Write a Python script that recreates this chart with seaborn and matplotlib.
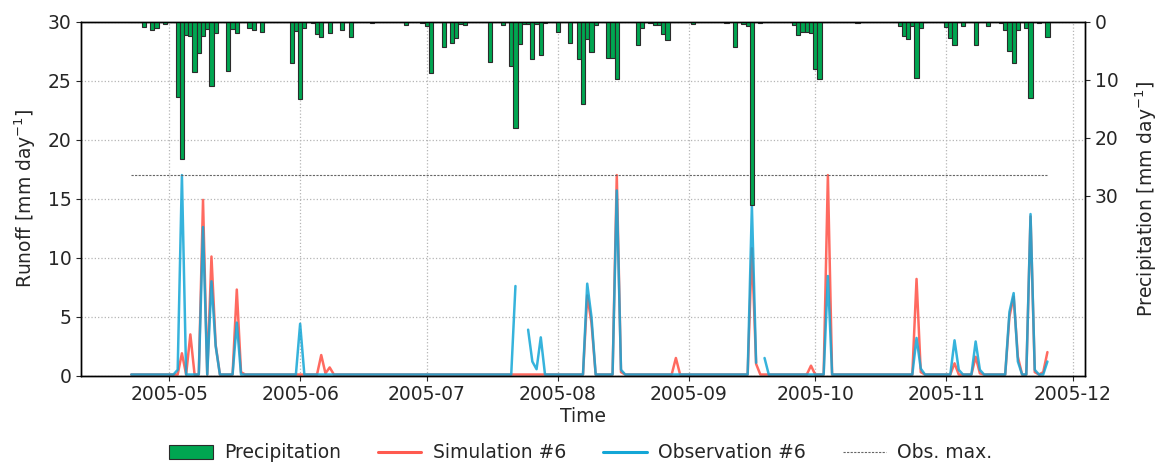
import numpy as np
import pandas as pd
import matplotlib
matplotlib.use("Agg")
import matplotlib.pyplot as plt
import matplotlib.dates as mdates
from matplotlib.patches import Patch
from matplotlib.lines import Line2D
import seaborn as sns

nan = np.nan
start_date = "2005-04-22"
end_date = "2005-11-25"

# ---- daily precipitation [mm/day] ----
precip_apr = [0, 0, 0, 0.9, 0, 1.35, 1.1, 0, 0.45]
precip_may = [0, 0, 13.0, 23.6, 2.25, 2.4, 8.7, 5.4, 2.5, 1.2, 11.1, 2.0, 0, 0, 8.5, 1.3,
              2.0, 0, 0, 1.0, 1.45, 0, 1.7, 0, 0, 0, 0, 0, 0, 7.1, 1.65]
precip_jun = [13.4, 1.0, 0, 0.3, 2.1, 2.7, 0, 2.0, 0, 0, 1.5, 0, 2.7, 0, 0, 0, 0, 0.2,
              0, 0, 0, 0, 0, 0, 0, 0.6, 0, 0, 0, 0.2]
precip_jul = [0.8, 8.8, 0, 0, 4.4, 0, 3.6, 2.8, 0.4, 0.5, 0, 0, 0, 0, 0, 6.9, 0, 0, 0.6,
              0, 7.6, 18.3, 3.85, 0.4, 0.4, 6.45, 0.4, 5.8, 0.3, 0, 0]
precip_aug = [1.8, 0, 0, 3.65, 0, 6.45, 14.1, 2.9, 5.2, 0.5, 0, 0, 6.2, 6.2, 9.9, 0, 0,
              0, 0, 4.1, 1.1, 0.1, 0.15, 0.6, 0.6, 2.2, 3.2, 0, 0, 0, 0]
precip_sep = [0, 0.4, 0, 0, 0, 0, 0, 0, 0, 0.15, 0, 4.35, 0, 0.4, 0.7, 31.5, 0, 0.3, 0,
              0, 0, 0, 0, 0, 0, 0.6, 2.25, 1.7, 1.85, 2.0]
precip_oct = [8.1, 9.8, 0, 0, 0, 0, 0, 0, 0, 0, 0.15, 0, 0, 0, 0, 0, 0, 0, 0, 0, 0.8,
              2.5, 2.95, 0.8, 9.7, 1.1, 0, 0, 0, 0, 0]
precip_nov = [0.85, 2.85, 4.0, 0, 0.7, 0, 0, 4.0, 0, 0, 0.7, 0, 0, 0.2, 1.5, 5.05, 7.1,
              1.4, 0, 1.05, 13.2, 0, 0.2, 0, 2.7]

# ---- simulated runoff [mm/day] ----
sim_apr = [0.1, 0.1, 0.1, 0.1, 0.1, 0.1, 0.1, 0.1, 0.1]
sim_may = [0.1, 0.1, 0.1, 1.9, 0.1, 3.5, 0.1, 0.1, 14.9, 0.1, 10.1, 2.6, 0.1, 0.1, 0.1,
           0.1, 7.3, 0.3, 0.1, 0.1, 0.1, 0.1, 0.1, 0.1, 0.1, 0.1, 0.1, 0.1, 0.1, 0.1, 0.1]
sim_jun = [0.1, 0.1, 0.1, 0.1, 0.1, 1.75, 0.2, 0.7, 0.1, 0.1, 0.1, 0.1, 0.1, 0.1, 0.1,
           0.1, 0.1, 0.1, 0.1, 0.1, 0.1, 0.1, 0.1, 0.1, 0.1, 0.1, 0.1, 0.1, 0.1, 0.1]
sim_jul = [0.1, 0.1, 0.1, 0.1, 0.1, 0.1, 0.1, 0.1, 0.1, 0.1, 0.1, 0.1, 0.1, 0.1, 0.1,
           0.1, 0.1, 0.1, 0.1, 0.1, 0.1, 0.1, 0.1, 0.1, 0.1, 0.1, 0.1, 0.1, 0.1, 0.1, 0.1]
sim_aug = [0.1, 0.1, 0.1, 0.1, 0.1, 0.1, 0.1, 6.8, 4.5, 0.1, 0.1, 0.1, 0.1, 0.1, 17.0,
           0.3, 0.1, 0.1, 0.1, 0.1, 0.1, 0.1, 0.1, 0.1, 0.1, 0.1, 0.1, 0.1, 1.5, 0.1, 0.1]
sim_sep = [0.1, 0.1, 0.1, 0.1, 0.1, 0.1, 0.1, 0.1, 0.1, 0.1, 0.1, 0.1, 0.1, 0.1, 0.1,
           10.8, 1.0, 0.1, 0.1, 0.1, 0.1, 0.1, 0.1, 0.1, 0.1, 0.1, 0.1, 0.1, 0.1, 0.85]
sim_oct = [0.1, 0.1, 0.1, 17.0, 0.1, 0.1, 0.1, 0.1, 0.1, 0.1, 0.1, 0.1, 0.1, 0.1, 0.1,
           0.1, 0.1, 0.1, 0.1, 0.1, 0.1, 0.1, 0.1, 0.1, 8.2, 0.3, 0.1, 0.1, 0.1, 0.1, 0.1]
sim_nov = [0.1, 0.1, 1.05, 0.1, 0.1, 0.1, 0.1, 1.6, 0.2, 0.1, 0.1, 0.1, 0.1, 0.1, 0.1,
           5.0, 6.7, 1.6, 0.1, 0.1, 13.5, 0.3, 0.1, 0.3, 2.0]

# ---- observed runoff [mm/day] ----
obs_apr = [0.1, 0.1, 0.1, 0.1, 0.1, 0.1, 0.1, 0.1, 0.1]
obs_may = [0.1, 0.1, 0.5, 17.0, 0.1, 0.1, 0.1, 0.1, 12.6, 0.1, 8.0, 2.5, 0.1, 0.1, 0.1,
           0.1, 4.5, 0.1, 0.1, 0.1, 0.1, 0.1, 0.1, 0.1, 0.1, 0.1, 0.1, 0.1, 0.1, 0.1, 0.1]
obs_jun = [4.4, 0.1, 0.1, 0.1, 0.1, 0.1, 0.1, 0.1, 0.1, 0.1, 0.1, 0.1, 0.1, 0.1, 0.1,
           0.1, 0.1, 0.1, 0.1, 0.1, 0.1, 0.1, 0.1, 0.1, 0.1, 0.1, 0.1, 0.1, 0.1, 0.1]
obs_jul = [0.1, 0.1, 0.1, 0.1, 0.1, 0.1, 0.1, 0.1, 0.1, 0.1, 0.1, 0.1, 0.1, 0.1, 0.1,
           0.1, 0.1, 0.1, 0.1, 0.1, 0.1, 7.6, nan, nan, 3.9, 1.2, 0.55, 3.25, 0.1, 0.1, 0.1]
obs_aug = [0.1, 0.1, 0.1, 0.1, 0.1, 0.1, 0.1, 7.8, 5.0, 0.1, 0.1, 0.1, 0.1, 0.1, 15.7,
           0.5, 0.1, 0.1, 0.1, 0.1, 0.1, 0.1, 0.1, 0.1, 0.1, 0.1, 0.1, 0.1, 0.1, 0.1, 0.1]
obs_sep = [0.1, 0.1, 0.1, 0.1, 0.1, 0.1, 0.1, 0.1, 0.1, 0.1, 0.1, 0.1, 0.1, 0.1, 0.1,
           14.4, 1.1, nan, 1.5, 0.1, 0.1, 0.1, 0.1, 0.1, 0.1, 0.1, 0.1, 0.1, 0.1, 0.1]
obs_oct = [0.1, 0.1, 0.1, 8.45, 0.1, 0.1, 0.1, 0.1, 0.1, 0.1, 0.1, 0.1, 0.1, 0.1, 0.1,
           0.1, 0.1, 0.1, 0.1, 0.1, 0.1, 0.1, 0.1, 0.1, 3.2, 0.6, 0.1, 0.1, 0.1, 0.1, 0.1]
obs_nov = [0.1, 0.1, 3.0, 0.5, 0.1, 0.1, 0.1, 2.9, 0.5, 0.1, 0.1, 0.1, 0.1, 0.1, 0.1,
           5.4, 7.0, 1.2, 0.1, 0.1, 13.7, 0.5, 0.1, 0.1, 1.2]

labels = ["Precipitation", "Simulation #6", "Observation #6", "Obs. max."]

# ---- style ----
sns.set_style("ticks")
plt.rcParams["font.family"] = ["DejaVu Sans"]
c_prec = "#00A651"
c_sim = "#FF5A4F"
c_obs = "#13A6D6"
c_max = "#666666"
FS = 13.5

dates = pd.date_range(start_date, end_date, freq="D")
precip = np.array(precip_apr + precip_may + precip_jun + precip_jul + precip_aug
                  + precip_sep + precip_oct + precip_nov, dtype=float)
sim = np.array(sim_apr + sim_may + sim_jun + sim_jul + sim_aug + sim_sep + sim_oct
               + sim_nov, dtype=float)
obs = np.array(obs_apr + obs_may + obs_jun + obs_jul + obs_aug + obs_sep + obs_oct
               + obs_nov, dtype=float)
df = pd.DataFrame({"date": dates, "precip": precip, "sim": sim, "obs": obs})
df["obs_seg"] = df["obs"].isna().cumsum()
obs_df = df.dropna(subset=["obs"])

fig = plt.figure(figsize=(11.59, 4.63), dpi=100)
L, R, T, B = 81 / 1159, 1085 / 1159, 21.7 / 463, 375.7 / 463
ax = fig.add_axes([L, 1 - B, R - L, B - T])
ax2 = ax.twinx()

ax.grid(True, linestyle=":", color="#b5b5b5", linewidth=0.9)
ax.set_axisbelow(True)

sns.lineplot(data=df, x="date", y="sim", ax=ax, color=c_sim, linewidth=1.8,
             estimator=None, legend=False, alpha=0.9)
sns.lineplot(data=obs_df, x="date", y="obs", units="obs_seg", estimator=None, ax=ax,
             color=c_obs, linewidth=1.8, legend=False, alpha=0.85)
ax.hlines(np.nanmax(obs), dates[0], dates[-1], colors=c_max, linestyles=(0, (2, 1.2)),
          linewidth=0.8)

ax2.bar(df["date"], df["precip"], width=1.0, color=c_prec, edgecolor="#2b2b2b",
        linewidth=0.8)
ax2.set_ylim(61, 0)
ax2.set_yticks([0, 10, 20, 30])

ref = pd.Timestamp("2005-05-01")
ax.set_xlim(ref - pd.Timedelta(days=20.9), ref + pd.Timedelta(days=216.9))
ax.set_ylim(0, 30)
ax.set_yticks([0, 5, 10, 15, 20, 25, 30])
ax.xaxis.set_major_locator(mdates.MonthLocator())
ax.xaxis.set_major_formatter(mdates.DateFormatter("%Y-%m"))

ax.set_xlabel("Time", fontsize=FS, labelpad=2)
ax.set_ylabel("Runoff [mm day$^{-1}$]", fontsize=FS, labelpad=7)
ax2.set_ylabel("Precipitation [mm day$^{-1}$]", fontsize=FS, labelpad=11)
ax.tick_params(labelsize=FS)
ax2.tick_params(labelsize=FS)
for a in (ax, ax2):
    for s in a.spines.values():
        s.set_color("black")
        s.set_linewidth(1.0)

handles = [Patch(facecolor=c_prec, edgecolor="#2b2b2b", linewidth=0.8),
           Line2D([], [], color=c_sim, linewidth=2.2),
           Line2D([], [], color=c_obs, linewidth=2.2),
           Line2D([], [], color=c_max, linestyle=(0, (2, 1.2)), linewidth=0.8)]
fig.legend(handles, labels, loc="center", bbox_to_anchor=(581 / 1159, 1 - 453 / 463),
           ncol=4, frameon=False, fontsize=FS, handlelength=2.3, handletextpad=0.6,
           columnspacing=2.0, borderpad=0.1)

fig.savefig("out.png", dpi=100)
